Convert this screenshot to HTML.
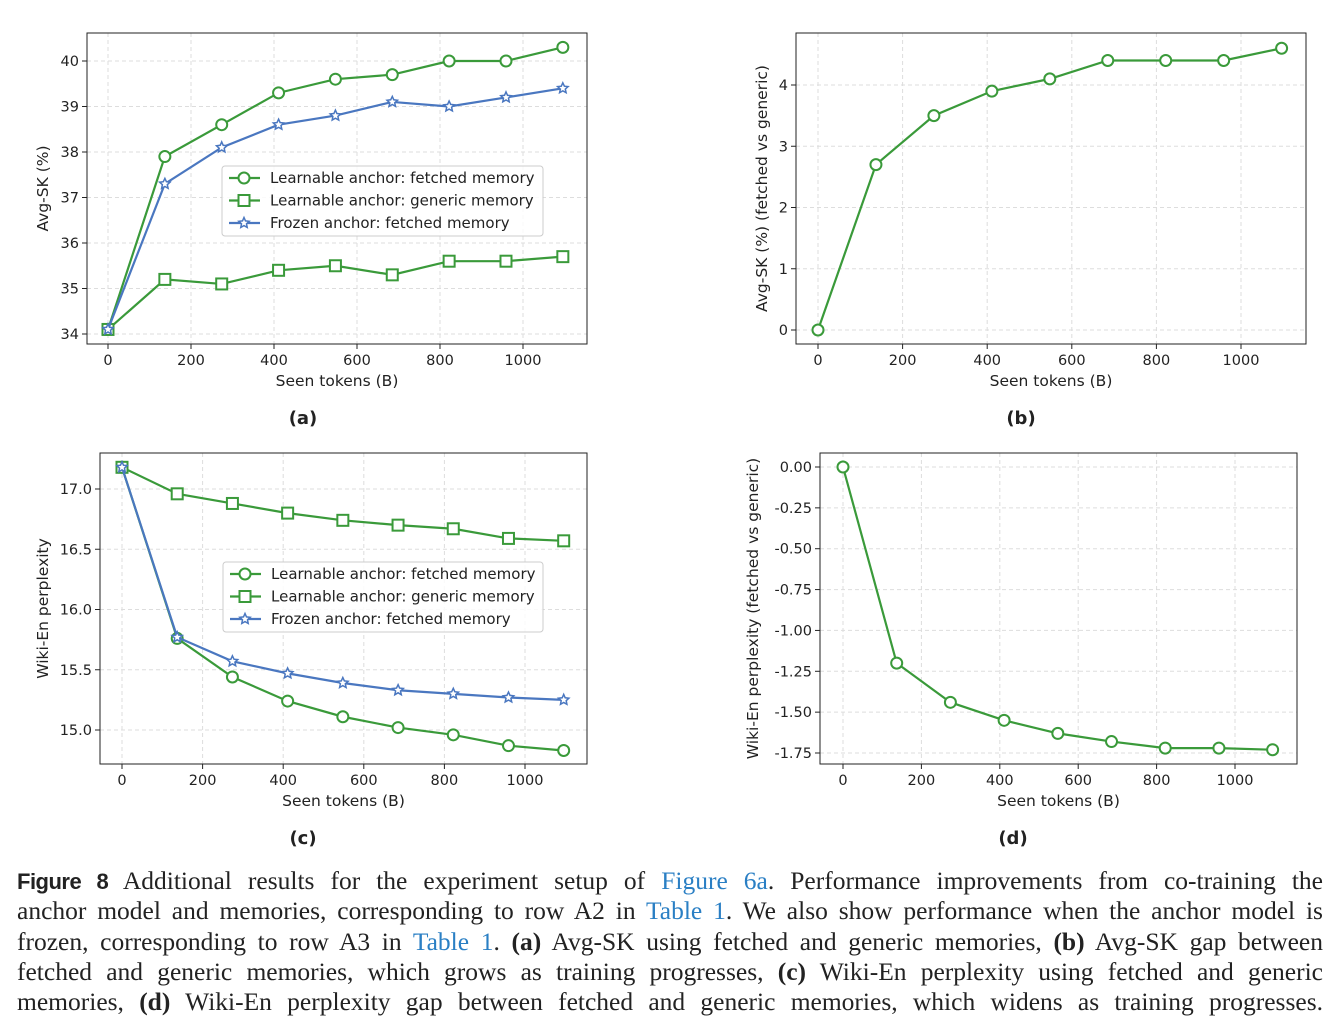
<!DOCTYPE html>
<html><head><meta charset="utf-8">
<style>
body{margin:0;background:#fff;width:1340px;height:1025px;overflow:hidden;position:relative}
svg text{font-family:"DejaVu Sans","Liberation Sans",sans-serif;fill:#222}
.cap{position:absolute;left:17px;width:1306px;font-family:"Liberation Serif",serif;font-size:25.5px;color:#222;text-align:justify;text-align-last:justify;white-space:nowrap;line-height:30px}
.cap a{color:#2a7fc4;text-decoration:none}
.cap b.s{font-family:"Liberation Sans",sans-serif;font-weight:bold;letter-spacing:-0.5px;font-size:22px}
</style></head><body>
<svg id="fig" width="1340" height="860" style="position:absolute;left:0;top:0"></svg>
<div class="cap" style="top:866px"><b class="s">Figure&nbsp;8</b> Additional results for the experiment setup of <a>Figure 6a</a>. Performance improvements from co-training the</div>
<div class="cap" style="top:896px">anchor model and memories, corresponding to row A2 in <a>Table 1</a>. We also show performance when the anchor model is</div>
<div class="cap" style="top:927px">frozen, corresponding to row A3 in <a>Table 1</a>. <b>(a)</b> Avg-SK using fetched and generic memories, <b>(b)</b> Avg-SK gap between</div>
<div class="cap" style="top:957px">fetched and generic memories, which grows as training progresses, <b>(c)</b> Wiki-En perplexity using fetched and generic</div>
<div class="cap" style="top:987px">memories, <b>(d)</b> Wiki-En perplexity gap between fetched and generic memories, which widens as training progresses.</div>
<script>
const xs = [0,137,274,411,548,685,822,959,1096];
const xTicks = [0,200,400,600,800,1000];
const aFetched = [34.1,37.9,38.6,39.3,39.6,39.7,40.0,40.0,40.3];
const aGeneric = [34.1,35.2,35.1,35.4,35.5,35.3,35.6,35.6,35.7];
const aFrozen = [34.1,37.3,38.1,38.6,38.8,39.1,39.0,39.2,39.4];
const aTicks = [34,35,36,37,38,39,40];
const bGap = [0,2.7,3.5,3.9,4.1,4.4,4.4,4.4,4.6];
const bTicks = [0,1,2,3,4];
const cFetched = [17.18,15.76,15.44,15.24,15.11,15.02,14.96,14.87,14.83];
const cGeneric = [17.18,16.96,16.88,16.80,16.74,16.70,16.67,16.59,16.57];
const cFrozen = [17.18,15.77,15.57,15.47,15.39,15.33,15.30,15.27,15.25];
const cTicks = [15.0,15.5,16.0,16.5,17.0];
const dGap = [0,-1.20,-1.44,-1.55,-1.63,-1.68,-1.72,-1.72,-1.73];
const dTicks = [0,-0.25,-0.5,-0.75,-1.0,-1.25,-1.5,-1.75];
const legendLabels = ["Learnable anchor: fetched memory","Learnable anchor: generic memory","Frozen anchor: fetched memory"];

const G="#3a9a3a", B="#4a77c0";
const svg=document.getElementById('fig');
const NS="http://www.w3.org/2000/svg";
function mk(tag,attrs,parent){const e=document.createElementNS(NS,tag);for(const k in attrs)e.setAttribute(k,attrs[k]);(parent||svg).appendChild(e);return e;}
function marker(g,type,x,y,color){
  let m;
  if(type==='o') m=mk('circle',{cx:x,cy:y,r:5.5,fill:'#fff',stroke:color,'stroke-width':2},g);
  else if(type==='s') m=mk('rect',{x:x-5.5,y:y-5.5,width:11,height:11,fill:'#fff',stroke:color,'stroke-width':2},g);
  else {let p=[];for(let i=0;i<10;i++){const r=i%2?2.6:5.5,a=-Math.PI/2+i*Math.PI/5;p.push((x+r*Math.cos(a)).toFixed(1)+','+(y+r*Math.sin(a)).toFixed(1));}
    m=mk('polygon',{points:p.join(' '),fill:'#fff',stroke:color,'stroke-width':1.5},g);}
  
  
}
function panel(o){
  const g=mk('g',{});
  
  
  const X=v=>o.x0px+(v-0)*(o.x1000px-o.x0px)/1000;
  const Y=v=>o.ya.px+(v-o.ya.v)*(o.yb.px-o.ya.px)/(o.yb.v-o.ya.v);
  xTicks.forEach(t=>{mk('line',{x1:X(t),x2:X(t),y1:o.top,y2:o.bot,stroke:'#ddd','stroke-dasharray':'4,3'},g);});
  o.yTicks.forEach(t=>{mk('line',{x1:o.left,x2:o.right,y1:Y(t),y2:Y(t),stroke:'#ddd','stroke-dasharray':'4,3'},g);});
  const fr=mk('rect',{x:o.left,y:o.top,width:o.right-o.left,height:o.bot-o.top,fill:'none',stroke:'#222','stroke-width':1},g);
  
  
  xTicks.forEach(t=>{mk('line',{x1:X(t),x2:X(t),y1:o.bot,y2:o.bot+5,stroke:'#222'},g);
    const tx=mk('text',{x:X(t),y:o.bot+21,'text-anchor':'middle','font-size':14.5},g);tx.textContent=t;
    });
  o.yTicks.forEach(t=>{mk('line',{x1:o.left-5,x2:o.left,y1:Y(t),y2:Y(t),stroke:'#222'},g);
    const tx=mk('text',{x:o.left-8,y:Y(t)+5,'text-anchor':'end','font-size':14.5},g);tx.textContent=o.fmt(t);
    });
  const xl=mk('text',{x:(o.left+o.right)/2,y:o.bot+42,'text-anchor':'middle','font-size':15.5},g);xl.textContent='Seen tokens (B)';
  
  const yl=mk('text',{x:0,y:0,'text-anchor':'middle','font-size':15.5,transform:`translate(${o.ylx},${(o.top+o.bot)/2}) rotate(-90)`},g);yl.textContent=o.ylabel;
  
  const sl=mk('text',{x:o.subx,y:o.suby,'text-anchor':'middle','font-size':18,'font-weight':'bold'},g);sl.textContent=o.sub;
  
  o.series.forEach(s=>{
    const pl=mk('polyline',{points:s.d.map((v,i)=>X(xs[i])+','+Y(v)).join(' '),fill:'none',stroke:s.c,'stroke-width':2.2},g);
    
    s.d.forEach((v,i)=>marker(g,s.m,X(xs[i]),Y(v),s.c));
  });
  if(o.legend){
    const L=o.legend;
    const lg=mk('g',{},g);
    
    mk('rect',{x:L.x,y:L.y,width:L.w,height:70,rx:3,fill:'#fff','fill-opacity':0.85,stroke:'#ccc'},lg);
    o.series.forEach((s,i)=>{
      const yy=L.y+12+i*22.5;
      mk('line',{x1:L.x+7,x2:L.x+38,y1:yy,y2:yy,stroke:s.c,'stroke-width':2.2},lg);
      marker(lg,s.m,L.x+22,yy,s.c);
      const t=mk('text',{x:L.x+48,y:yy+5,'font-size':15},lg);t.textContent=legendLabels[i];
      
    });
  }
}
panel({name:'panel-a',left:87,right:587,top:33,bot:344,x0px:108,x1000px:523,ya:{v:34,px:334},yb:{v:40,px:61},yTicks:aTicks,fmt:t=>t,
  ylabel:'Avg-SK (%)',ylx:48,sub:'(a)',subx:303,suby:424,legend:{x:222,y:166,w:321},
  series:[{d:aFetched,c:G,m:'o'},{d:aGeneric,c:G,m:'s'},{d:aFrozen,c:B,m:'*'}]});
panel({name:'panel-b',left:796,right:1306,top:33,bot:344,x0px:818,x1000px:1241,ya:{v:0,px:330},yb:{v:4,px:85},yTicks:bTicks,fmt:t=>t,
  ylabel:'Avg-SK (%) (fetched vs generic)',ylx:767,sub:'(b)',subx:1021,suby:424,
  series:[{d:bGap,c:G,m:'o'}]});
panel({name:'panel-c',left:100,right:587,top:453,bot:764,x0px:122,x1000px:525,ya:{v:17,px:489},yb:{v:15,px:730},yTicks:cTicks,fmt:t=>t.toFixed(1),
  ylabel:'Wiki-En perplexity',ylx:48,sub:'(c)',subx:303,suby:844,legend:{x:223,y:562,w:320},
  series:[{d:cFetched,c:G,m:'o'},{d:cGeneric,c:G,m:'s'},{d:cFrozen,c:B,m:'*'}]});
panel({name:'panel-d',left:820,right:1297,top:453,bot:764,x0px:843,x1000px:1235,ya:{v:0,px:467},yb:{v:-1.75,px:753},yTicks:dTicks,fmt:t=>t.toFixed(2),
  ylabel:'Wiki-En perplexity (fetched vs generic)',ylx:758,sub:'(d)',subx:1013,suby:844,
  series:[{d:dGap,c:G,m:'o'}]});
</script>
</body></html>
